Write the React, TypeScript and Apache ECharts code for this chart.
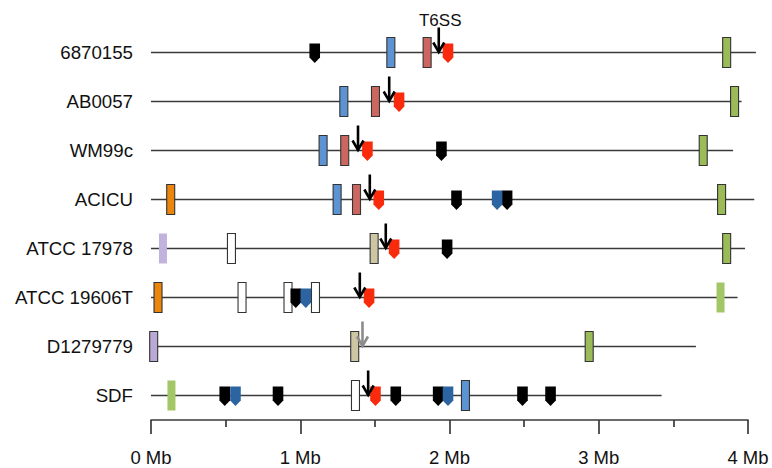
import React, { useEffect, useRef } from "react";
import * as echarts from "echarts";

// Genomes (top to bottom) and their chromosome lengths (Mb)
const genomes = ["6870155", "AB0057", "WM99c", "ACICU", "ATCC 17978", "ATCC 19606T", "D1279779", "SDF"];
const genomeLengths = [4.053, 3.957, 3.9, 4.042, 3.98, 3.93, 3.651, 3.421];

// Features: [genomeIndex, position in Mb]
const blueBoxes = [[0, 1.607], [1, 1.292], [2, 1.153], [3, 1.247], [7, 2.107]];
const redBoxes = [[0, 1.85], [1, 1.504], [2, 1.298], [3, 1.377]];
const greenBoxes = [[0, 3.857], [1, 3.91], [2, 3.7], [3, 3.823], [4, 3.857], [6, 2.936]];
const paleGreenBoxes = [[5, 3.816], [7, 0.137]];
const orangeBoxes = [[3, 0.132], [5, 0.047]];
const lavenderBoxes = [[6, 0.018]];
const paleLavenderBoxes = [[4, 0.08]];
const tanBoxes = [[4, 1.495], [6, 1.365]];
const whiteBoxes = [[4, 0.539], [5, 0.61], [5, 0.918], [5, 1.102], [7, 1.37]];

const redTags = [[0, 1.99], [1, 1.662], [2, 1.45], [3, 1.526], [4, 1.629], [5, 1.461], [7, 1.504]];
const blackTags = [
  [0, 1.097], [2, 1.946], [3, 2.047], [3, 2.386], [4, 1.984], [5, 0.97],
  [7, 0.494], [7, 0.851], [7, 1.64], [7, 1.924], [7, 2.489], [7, 2.677],
];
const navyTags = [[3, 2.319], [5, 1.037], [7, 0.566], [7, 1.99]];

const t6ssArrows = [[0, 1.928], [1, 1.596], [2, 1.387], [3, 1.466], [4, 1.573], [5, 1.399], [7, 1.455]];
const greyArrows = [[6, 1.417]];
const arrowLabels = ["T6SS"];

const FONT = "'Liberation Sans', Arial, Helvetica, sans-serif";

function lineSeries() {
  return {
    type: "custom",
    clip: false,
    z: 1,
    data: genomeLengths.map((len, i) => [i, len]),
    encode: { x: 1, y: 0 },
    renderItem: (params: any, api: any) => {
      const a = api.coord([0, api.value(0)]);
      const b = api.coord([api.value(1), api.value(0)]);
      return {
        type: "line",
        shape: { x1: a[0], y1: a[1], x2: b[0], y2: b[1] },
        style: { stroke: "#3a3a3a", lineWidth: 1.7 },
      };
    },
  };
}

function boxSeries(data: number[][], fill: string, outlined: boolean) {
  return {
    type: "custom",
    clip: false,
    z: 3,
    data,
    encode: { x: 1, y: 0 },
    renderItem: (params: any, api: any) => {
      const p = api.coord([api.value(1), api.value(0)]);
      return {
        type: "rect",
        shape: { x: p[0] - 4, y: p[1] - 15, width: 8, height: 30 },
        style: { fill, stroke: outlined ? "#333333" : null, lineWidth: outlined ? 1.1 : 0 },
      };
    },
  };
}

function tagSeries(data: number[][], fill: string) {
  return {
    type: "custom",
    clip: false,
    z: 4,
    data,
    encode: { x: 1, y: 0 },
    renderItem: (params: any, api: any) => {
      const p = api.coord([api.value(1), api.value(0)]);
      const x = p[0];
      const y = p[1];
      return {
        type: "polygon",
        shape: {
          points: [
            [x - 5.3, y - 9],
            [x + 5.3, y - 9],
            [x + 5.3, y + 5],
            [x, y + 10.5],
            [x - 5.3, y + 5],
          ],
        },
        style: { fill },
      };
    },
  };
}

function arrowSeries(data: number[][], color: string, labels: string[]) {
  return {
    type: "custom",
    clip: false,
    z: 5,
    data,
    encode: { x: 1, y: 0 },
    renderItem: (params: any, api: any) => {
      const p = api.coord([api.value(1), api.value(0)]);
      const x = p[0];
      const y = p[1];
      const children: any[] = [
        {
          type: "line",
          shape: { x1: x, y1: y - 25, x2: x, y2: y - 1 },
          style: { stroke: color, lineWidth: 2.6 },
        },
        {
          type: "polyline",
          shape: { points: [[x - 5.5, y - 10], [x, y - 0.5], [x + 5.5, y - 10]] },
          style: { stroke: color, lineWidth: 2.6, fill: null },
        },
      ];
      const label = labels[params.dataIndex];
      if (label) {
        children.push({
          type: "text",
          x: x + 1.5,
          y: y - 32,
          style: {
            text: label,
            fill: "#111",
            font: `17px ${FONT}`,
            align: "center",
            verticalAlign: "middle",
          },
        });
      }
      return { type: "group", children };
    },
  };
}

export default function App() {
  const ref = useRef<HTMLDivElement>(null);
  useEffect(() => {
    if (!ref.current) return;
    const chart = echarts.init(ref.current, null, { renderer: "svg" });
    const axisColor = "#3a3a3a";
    chart.setOption({
      animation: false,
      backgroundColor: "#ffffff",
      textStyle: { fontFamily: FONT },
      grid: { left: 151, right: 24, top: 28, bottom: 48, containLabel: false },
      xAxis: {
        type: "value",
        min: 0,
        max: 4,
        interval: 1,
        axisLine: { show: true, lineStyle: { color: axisColor, width: 1.7 } },
        axisTick: { show: true, length: 14, lineStyle: { color: axisColor, width: 1.7 } },
        minorTick: { show: true, splitNumber: 2, length: 7, lineStyle: { color: axisColor, width: 1.7 } },
        splitLine: { show: false },
        minorSplitLine: { show: false },
        axisLabel: { formatter: "{value} Mb", fontSize: 18.5, color: "#111", margin: 28, fontFamily: FONT },
      },
      yAxis: {
        type: "category",
        data: genomes,
        inverse: true,
        axisLine: { show: false },
        axisTick: { show: false },
        splitLine: { show: false },
        axisLabel: { fontSize: 18.7, color: "#111", margin: 18, fontFamily: FONT },
      },
      series: [
        lineSeries(),
        boxSeries(blueBoxes, "#5b93d3", true),
        boxSeries(redBoxes, "#cc6660", true),
        boxSeries(greenBoxes, "#9bbb59", true),
        boxSeries(paleGreenBoxes, "#a3c767", false),
        boxSeries(orangeBoxes, "#eb850c", true),
        boxSeries(lavenderBoxes, "#b9a9d4", true),
        boxSeries(paleLavenderBoxes, "#c1b3dc", false),
        boxSeries(tanBoxes, "#cdc6a2", true),
        boxSeries(whiteBoxes, "#ffffff", true),
        tagSeries(redTags, "#fa2a0c"),
        tagSeries(blackTags, "#000000"),
        tagSeries(navyTags, "#2b64a0"),
        arrowSeries(t6ssArrows, "#000000", arrowLabels),
        arrowSeries(greyArrows, "#8c8c8c", []),
      ],
    });
    return () => chart.dispose();
  }, []);
  return (
    <div
      ref={ref}
      style={{ position: "fixed", left: 0, top: 0, width: 772, height: 468, background: "#fff" }}
    />
  );
}
